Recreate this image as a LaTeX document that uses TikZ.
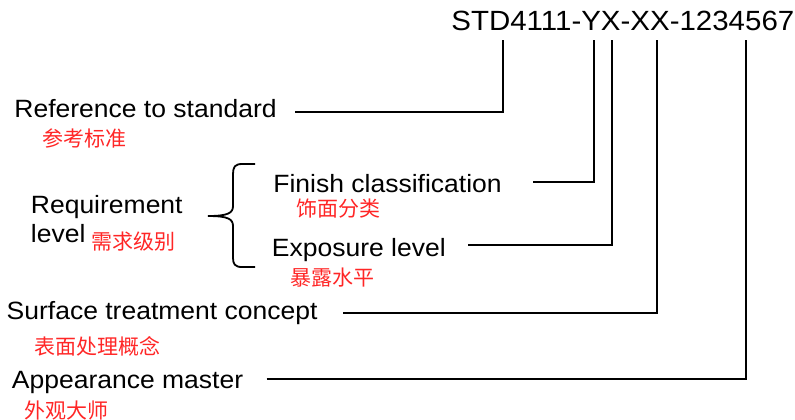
\documentclass[tikz,border=0pt]{standalone}
\usepackage{fontspec}
\setmainfont{Liberation Sans}[FakeStretch=1.06]
\newfontfamily\cjk{Noto Sans CJK SC}
\tikzset{
  lbl/.style={anchor=base west, inner sep=0pt, font=\fontsize{12.5}{15}\selectfont},
  code/.style={anchor=base west, inner sep=0pt, font=\fontsize{13.9}{16}\selectfont},
  cn/.style={anchor=base west, inner sep=0pt, text=red!85, font=\cjk\fontsize{10.5}{12}\selectfont},
  conn/.style={line width=0.9pt, line join=miter},
  bracestyle/.style={line width=0.9pt}
}
\begin{document}
\begin{tikzpicture}[x=0.5pt,y=-0.5pt]
\useasboundingbox (0,0) rectangle (795,419);
% code
\node[code] (std) at (451,30) {STD4111-YX-XX-1234567};
% labels
\node[lbl] (ref) at (14,117.3) {Reference to standard};
\node[cn] (refcn) at (42.5,146.5) {参考标准};
\node[lbl] (req1) at (30.5,213.3) {Requirement};
\node[lbl] (req2) at (30.5,242.7) {level};
\node[cn] (reqcn) at (91,249.5) {需求级别};
\node[lbl] (fin) at (273,192.3) {Finish classification};
\node[cn] (fincn) at (296,216.5) {饰面分类};
\node[lbl] (exp) at (271.5,256.7) {Exposure level};
\node[cn] (expcn) at (290,285.5) {暴露水平};
\node[lbl] (sur) at (6.3,319.3) {Surface treatment concept};
\node[cn] (surcn) at (34.5,354.5) {表面处理概念};
\node[lbl] (app) at (11.5,388.3) {Appearance master};
\node[cn] (appcn) at (24.5,418) {外观大师};
% connector ends
\coordinate (s1) at (295,112);   \coordinate (t1) at (503.3,40);
\coordinate (s2) at (533,182);   \coordinate (t2) at (594,40);
\coordinate (s3) at (468,245);   \coordinate (t3) at (612.3,40);
\coordinate (s4) at (343.3,312.7); \coordinate (t4) at (657.3,40);
\coordinate (s5) at (266.7,379.3); \coordinate (t5) at (746,40);
\draw[conn] (s1) -| (t1);
\draw[conn] (s2) -| (t2);
\draw[conn] (s3) -| (t3);
\draw[conn] (s4) -| (t4);
\draw[conn] (s5) -| (t5);
% brace
\draw[bracestyle] (255,164) -- (242,164) .. controls (235,164) and (233,167) .. (233,174)
  -- (233,206) .. controls (233,213) and (228,216) .. (208,216)
  .. controls (228,216) and (233,219) .. (233,226)
  -- (233,258) .. controls (233,264) and (235,267) .. (242,267) -- (255,267);
\end{tikzpicture}
\end{document}
